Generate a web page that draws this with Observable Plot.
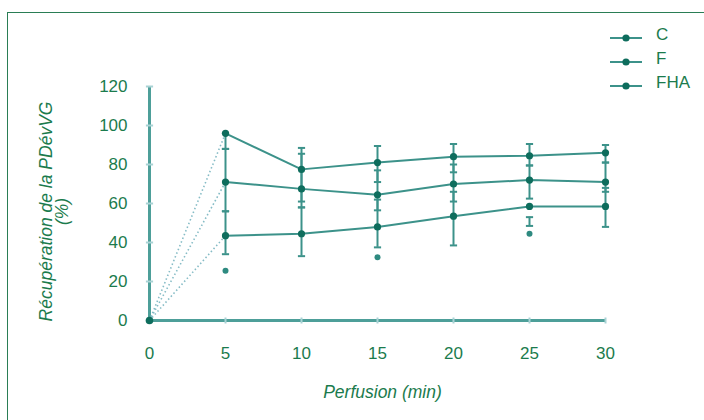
<!DOCTYPE html>
<html><head><meta charset="utf-8">
<script src="https://cdn.jsdelivr.net/npm/d3@7"></script>
<script src="https://cdn.jsdelivr.net/npm/@observablehq/plot@0.6"></script>
<style>
html,body{margin:0;padding:0;background:#fff;}
#wrap{position:relative;width:704px;height:420px;overflow:hidden;font-family:"Liberation Sans","DejaVu Sans",sans-serif;}
#frame{position:absolute;left:7px;top:12px;width:760px;height:460px;border-left:1.5px solid #2a7d55;border-top:1.5px solid #2a7d55;}
#legend{position:absolute;left:610px;top:23px;color:#1b7b4d;font-size:17px;}
.row{display:flex;align-items:center;height:24px;}
.row svg{margin-right:14px;margin-top:6px;}
</style></head>
<body><div id="wrap"><div id="frame"></div><div id="chart"></div><div id="legend"></div></div>
<script>
const times = [0, 5, 10, 15, 20, 25, 30];
const seriesNames = ["C", "F", "FHA"];
const C   = [0, 96, 77.5, 81, 84, 84.5, 86];
const F   = [0, 71, 67.5, 64.5, 70, 72, 71];
const FHA = [0, 43.5, 44.5, 48, 53.5, 58.5, 58.5];
// error bar bounds at 5..30 min
const C_lo   = [88, 61, 71, 76, 79.5, 81];
const C_hi   = [96, 88.5, 89.5, 90.5, 90.5, 90];
const F_lo   = [56, 58, 56.5, 61, 62.5, 66];
const F_hi   = [88, 85.5, 77, 80, 79.5, 81];
const FHA_lo = [34, 33, 37.5, 38.5, 48.5, 48];
const FHA_hi = [56, 58, 62, 66, 53, 68];
const outliers = [{t: 5, v: 25.5}, {t: 15, v: 32.5}, {t: 25, v: 44.5}];
const xTicks = [0, 5, 10, 15, 20, 25, 30];
const yTicks = [0, 20, 40, 60, 80, 100, 120];

const vals = {C, F, FHA};
const lo = {C: C_lo, F: F_lo, FHA: FHA_lo};
const hi = {C: C_hi, F: F_hi, FHA: FHA_hi};
const rows = [];
const bars = [];
const starts = [];
for (const s of seriesNames) {
  times.forEach((t, i) => {
    if (i > 0) {
      rows.push({s, t, v: vals[s][i]});
      bars.push({s, t, lo: lo[s][i-1], hi: hi[s][i-1]});
    }
  });
  starts.push({s, t0: times[0], v0: vals[s][0], t1: times[1], v1: vals[s][1]});
}
const capH = {draw(ctx, size){ const r = 3.6; ctx.moveTo(-r, 0); ctx.lineTo(r, 0); }};
const capV = {draw(ctx, size){ const r = 3; ctx.moveTo(0, -r); ctx.lineTo(0, r); }};
const LINE = "#3c928a", DOT = "#0e6d5d", TXT = "#1b7b4d", AX = "#4d9f99";
const xExt = d3.extent(xTicks), yExt = d3.extent(yTicks);

const chart = Plot.plot({
  width: 704, height: 420,
  marginLeft: 149, marginRight: 99, marginTop: 86, marginBottom: 100,
  x: {domain: xExt}, y: {domain: yExt},
  style: {fontFamily: '"Liberation Sans","DejaVu Sans",sans-serif', fontSize: "17px", color: TXT, background: "transparent"},
  marks: [
    Plot.axisY({ticks: yTicks, tickSize: 0, tickPadding: 22, label: null, fontSize: 17}),
    Plot.axisX({ticks: xTicks, tickSize: 0, tickPadding: 26, label: null, fontSize: 17}),
    Plot.ruleY([yExt[0]], {x1: xExt[0], x2: xExt[1], stroke: AX, strokeWidth: 3}),
    Plot.ruleX([xExt[0]], {y1: yExt[0], y2: yExt[1], stroke: AX, strokeWidth: 3}),
    Plot.dot(yTicks, {x: xExt[0], y: d => d, symbol: capH, stroke: "#a9d2d4", strokeWidth: 2}),
    Plot.dot(xTicks, {x: d => d, y: yExt[0], symbol: capV, stroke: "#a9d2d4", strokeWidth: 2}),
    Plot.link(starts, {x1: "t0", y1: "v0", x2: "t1", y2: "v1", stroke: "#86bcc6", strokeWidth: 1.6, strokeDasharray: "1.5,2.5"}),
    Plot.ruleX(bars, {x: "t", y1: "lo", y2: "hi", stroke: LINE, strokeWidth: 2}),
    Plot.dot(bars, {x: "t", y: "lo", symbol: capH, stroke: LINE, strokeWidth: 2}),
    Plot.dot(bars, {x: "t", y: "hi", symbol: capH, stroke: LINE, strokeWidth: 2}),
    Plot.dot(outliers, {x: "t", y: "v", r: 3, fill: "#2e8a80"}),
    Plot.line(rows, {x: "t", y: "v", z: "s", stroke: LINE, strokeWidth: 2}),
    Plot.dot(rows, {x: "t", y: "v", r: 3.6, fill: DOT}),
    Plot.dot([0], {x: xExt[0], y: yExt[0], r: 3.8, fill: DOT}),
    Plot.text(["Récupération de la PDévVG\n(%)"], {frameAnchor: "left", textAnchor: "middle", rotate: -90, dx: -95, dy: 8, fontStyle: "italic", fontSize: 17.5, lineHeight: 0.95, fill: TXT}),
    Plot.text(["Perfusion (min)"], {frameAnchor: "bottom", dy: 77, dx: 5, fontStyle: "italic", fontSize: 17.5, fill: TXT})
  ]
});
chart.style.position = "absolute"; chart.style.left = "0px"; chart.style.top = "0px";
document.getElementById("chart").appendChild(chart);

const leg = document.getElementById("legend");
for (const s of seriesNames) {
  const r = document.createElement("div"); r.className = "row";
  r.innerHTML = `<svg width="32" height="10"><line x1="0" y1="5" x2="32" y2="5" stroke="${LINE}" stroke-width="2"/><circle cx="16" cy="5" r="3.6" fill="${DOT}"/></svg><span></span>`;
  r.querySelector("span").textContent = s;
  leg.appendChild(r);
}
</script></body></html>
